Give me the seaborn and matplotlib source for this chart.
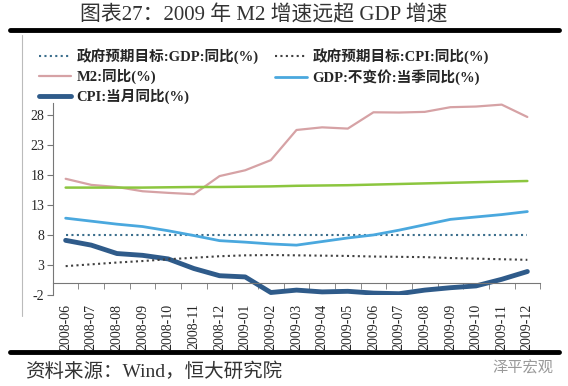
import numpy as np
import pandas as pd
import matplotlib.pyplot as plt
import seaborn as sns
from matplotlib.lines import Line2D

sns.set_style("white")
plt.rcParams['font.family'] = ['Liberation Serif', 'Noto Sans CJK SC', 'DejaVu Sans']

# data
months = ['2008-06', '2008-07', '2008-08', '2008-09', '2008-10', '2008-11', '2008-12',
          '2009-01', '2009-02', '2009-03', '2009-04', '2009-05', '2009-06', '2009-07',
          '2009-08', '2009-09', '2009-10', '2009-11', '2009-12']
gdp_target = [8, 8, 8, 8, 8, 8, 8, 8, 8, 8, 8, 8, 8, 8, 8, 8, 8, 8, 8]
cpi_target = [2.8, 3.1, 3.4, 3.65, 3.95, 4.2, 4.45, 4.6, 4.65, 4.6, 4.55, 4.5, 4.4,
              4.35, 4.3, 4.15, 4.05, 3.95, 3.85]
m2 = [17.37, 16.35, 16.0, 15.29, 15.02, 14.8, 17.82, 18.79, 20.48, 25.51, 25.95,
      25.74, 28.46, 28.42, 28.53, 29.31, 29.42, 29.74, 27.68]
gdp = [10.8, 10.3, 9.8, 9.4, 8.7, 7.9, 7.05, 6.8, 6.5, 6.3, 6.9, 7.5, 8.0, 8.8,
       9.7, 10.6, 11.0, 11.4, 11.9]
cpi = [7.1, 6.3, 4.9, 4.6, 4.0, 2.4, 1.2, 1.0, -1.6, -1.2, -1.5, -1.4, -1.7, -1.8,
       -1.2, -0.8, -0.5, 0.6, 1.9]
green = [15.9, 15.9, 15.9, 15.9, 15.95, 16.0, 16.0, 16.05, 16.1, 16.2, 16.25, 16.3,
         16.4, 16.5, 16.6, 16.7, 16.8, 16.9, 17.0]
y_ticks = [-2, 3, 8, 13, 18, 23, 28]

df = pd.DataFrame({'month': months, 'gdp_target': gdp_target, 'cpi_target': cpi_target,
                   'm2': m2, 'gdp': gdp, 'cpi': cpi, 'green': green})
df['pos'] = np.arange(len(months))

fig = plt.figure(figsize=(5.68, 3.86), dpi=100)
ax = fig.add_axes([0.093, 0.236, 0.858, 0.497])

dot = (0, (1, 1.6))
sns.lineplot(data=df, x='pos', y='gdp_target', ax=ax, color='#3b6e8c', lw=1.5,
             linestyle=dot, label='政府预期目标:GDP:同比(%)')
sns.lineplot(data=df, x='pos', y='m2', ax=ax, color='#d6a2a5', lw=1.6, label='M2:同比(%)')
sns.lineplot(data=df, x='pos', y='cpi', ax=ax, color='#2f5b8a', lw=3.5, label='CPI:当月同比(%)')
sns.lineplot(data=df, x='pos', y='cpi_target', ax=ax, color='#404040', lw=1.5,
             linestyle=dot, label='政府预期目标:CPI:同比(%)')
sns.lineplot(data=df, x='pos', y='gdp', ax=ax, color='#4aa8de', lw=2.0,
             label='GDP:不变价:当季同比(%)')
sns.lineplot(data=df, x='pos', y='green', ax=ax, color='#8cc63f', lw=1.8)

handles, labels = ax.get_legend_handles_labels()
ax.get_legend().remove()
fig.legend(handles, labels, loc='upper left', bbox_to_anchor=(0.055, 0.893), ncol=2,
           frameon=False, prop={'weight': 'bold', 'size': 10.5}, handlelength=2.2,
           handletextpad=0.4, columnspacing=1.1, labelspacing=0.3, borderpad=0)

ax.set_xlim(-0.5, len(months) - 0.5)
ax.set_ylim(-2, 30)
ax.set_yticks(y_ticks)
ax.set_yticklabels([str(v) for v in y_ticks], fontsize=10)
ax.set_xticks(df['pos'])
ax.set_xticklabels(months, fontsize=9)
ax.set_xticks(np.arange(-0.5, len(months)), minor=True)
ax.tick_params(axis='x', which='major', length=0, pad=15, labelrotation=90)
ax.tick_params(axis='x', which='minor', length=4, direction='out', color='#777777', bottom=True)
ax.tick_params(axis='y', length=4, direction='out', color='#777777', left=True, pad=2)
ax.set_xlabel('')
ax.set_ylabel('')
for s in ['top', 'right']:
    ax.spines[s].set_visible(False)
ax.spines['bottom'].set_position(('data', 0))
ax.spines['bottom'].set_color('#777777')
ax.spines['left'].set_color('#777777')

# page furniture
fig.text(0.465, 0.961, '图表27：2009 年 M2 增速远超 GDP 增速', ha='center', va='center',
         fontsize=15, color='#333333', family=['Liberation Serif', 'Noto Sans CJK SC'])
fig.add_artist(Line2D([0.018, 0.985], [0.922, 0.922], lw=3.5, color='black'))
fig.add_artist(Line2D([0.018, 0.985], [0.088, 0.088], lw=3.5, color='black'))
fig.add_artist(Line2D([0.039, 0.039], [0.181, 0.909], lw=0.8, color='#bbbbbb'))
fig.text(0.044, 0.036, '资料来源：Wind，恒大研究院', ha='left', va='center', fontsize=14,
         color='#333333')
fig.text(0.975, 0.046, '泽平宏观', ha='right', va='center', fontsize=11, color='#999999')

fig.savefig('out.png', dpi=100)
